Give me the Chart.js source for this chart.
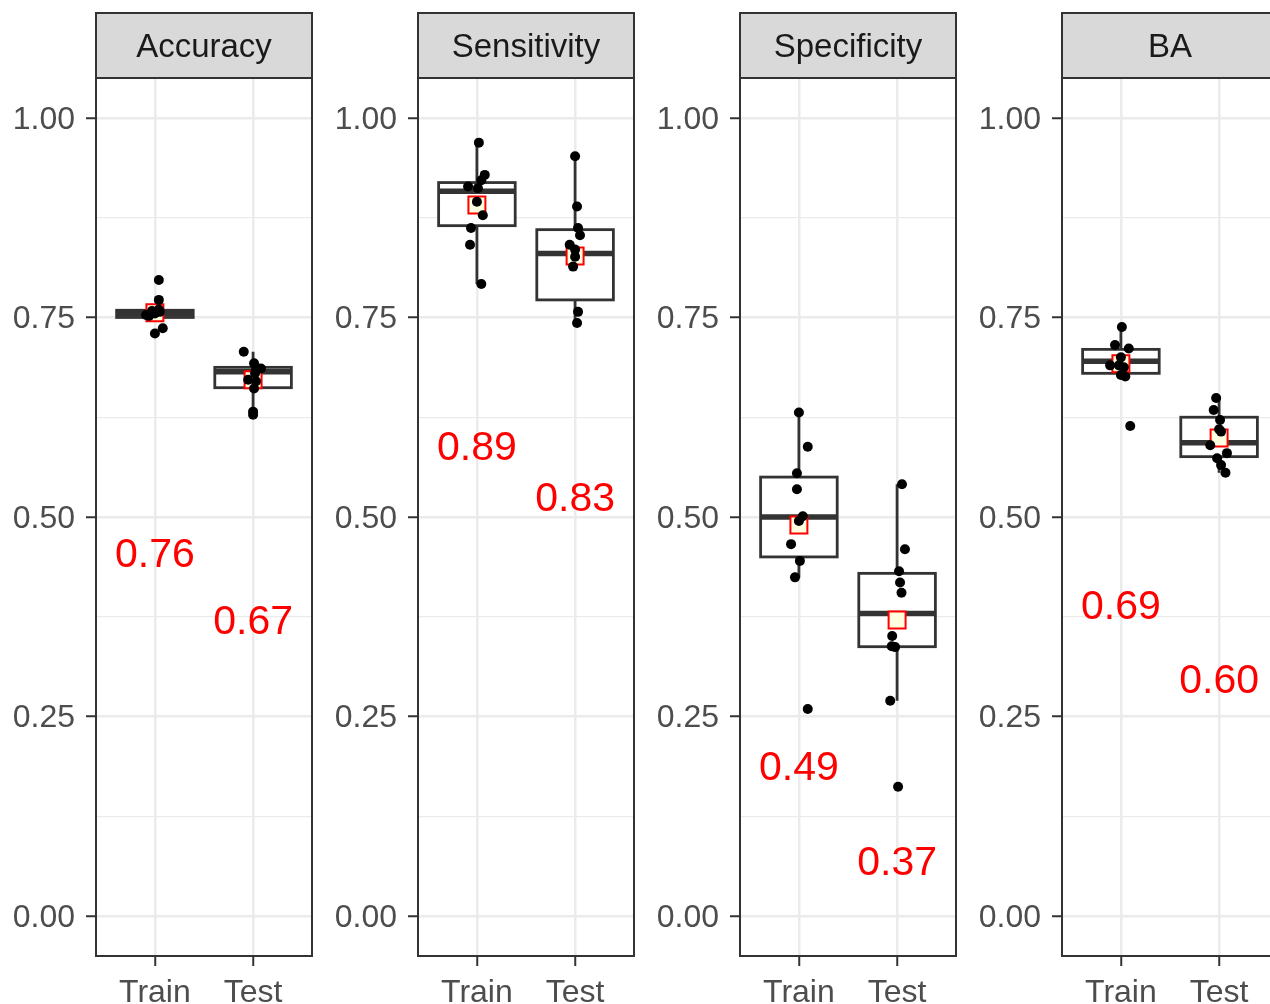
<!DOCTYPE html>
<html>
<head>
<meta charset="utf-8">
<script src="https://cdn.jsdelivr.net/npm/chart.js@4.4.1/dist/chart.umd.min.js"></script>
<style>
  body { margin: 0; background: #fff; overflow: hidden; width: 1270px; height: 1004px; position: relative; }
  canvas { position: absolute; top: 0; }
</style>
</head>
<body>
<script>
// categories / facets
const categories = ['Train', 'Test'];
const metrics = ['Accuracy', 'Sensitivity', 'Specificity', 'BA'];
const yTicks = [0, 0.25, 0.5, 0.75, 1];
const yMinor = [0.125, 0.375, 0.625, 0.875];

// fold values (jitter = horizontal offset)
const accTrain = [0.797, 0.772, 0.760, 0.758, 0.757, 0.755, 0.753, 0.752, 0.7365, 0.730];
const accTrainJit = [0.04, 0.04, 0.04, -0.03, 0.05, 0.00, -0.09, -0.06, 0.08, 0.00];
const accTest = [0.707, 0.6925, 0.686, 0.684, 0.680, 0.672, 0.670, 0.661, 0.632, 0.628];
const accTestJit = [-0.095, 0.01, 0.08, 0.03, 0.02, -0.05, 0.03, 0.01, 0.0, 0.0];

const sensTrain = [0.969, 0.9286, 0.922, 0.914, 0.912, 0.895, 0.878, 0.862, 0.841, 0.792];
const sensTrainJit = [0.02, 0.08, 0.045, -0.09, 0.01, 0.0, 0.06, -0.06, -0.07, 0.045];
const sensTest = [0.952, 0.889, 0.862, 0.853, 0.841, 0.835, 0.826, 0.8137, 0.757, 0.743];
const sensTestJit = [0.0, 0.02, 0.03, 0.05, -0.055, 0.0, 0.0, -0.02, 0.03, 0.02];

const specTrain = [0.631, 0.588, 0.5547, 0.5347, 0.501, 0.495, 0.466, 0.445, 0.4244, 0.2594];
const specTrainJit = [0.0, 0.09, -0.02, -0.02, 0.04, 0.0, -0.08, 0.01, -0.04, 0.09];
const specTest = [0.541, 0.4595, 0.432, 0.418, 0.405, 0.351, 0.338, 0.337, 0.2698, 0.162];
const specTestJit = [0.05, 0.08, 0.02, 0.03, 0.045, -0.05, -0.055, -0.02, -0.07, 0.01];

const baTrain = [0.738, 0.7155, 0.711, 0.700, 0.690, 0.690, 0.6875, 0.678, 0.676, 0.614];
const baTrainJit = [0.01, -0.06, 0.08, 0.0, -0.11, -0.02, 0.03, 0.0, 0.045, 0.095];
const baTest = [0.649, 0.634, 0.6216, 0.610, 0.607, 0.590, 0.580, 0.5735, 0.565, 0.5555];
const baTestJit = [-0.03, -0.055, 0.01, 0.0, 0.02, -0.09, 0.08, -0.02, 0.02, 0.065];

// box stats per metric (Accuracy, Sensitivity, Specificity, BA)
const q1Train = [0.750, 0.865, 0.450, 0.680];
const medTrain = [0.755, 0.908, 0.500, 0.695];
const q3Train = [0.759, 0.919, 0.550, 0.710];
const loTrain = [0.750, 0.792, 0.424, 0.676];
const hiTrain = [0.759, 0.969, 0.631, 0.738];

const q1Test = [0.662, 0.772, 0.3375, 0.5756];
const medTest = [0.682, 0.830, 0.379, 0.593];
const q3Test = [0.6875, 0.860, 0.4294, 0.625];
const loTest = [0.632, 0.743, 0.2698, 0.5555];
const hiTest = [0.707, 0.952, 0.541, 0.649];

const meanTrain = [0.756, 0.891, 0.490, 0.692];
const meanTest = [0.672, 0.827, 0.371, 0.599];

const trainVals = [accTrain, sensTrain, specTrain, baTrain];
const trainJit = [accTrainJit, sensTrainJit, specTrainJit, baTrainJit];
const testVals = [accTest, sensTest, specTest, baTest];
const testJit = [accTestJit, sensTestJit, specTestJit, baTestJit];

const FONT = "'Liberation Sans', Arial, sans-serif";
Chart.defaults.font.family = FONT;

const boxPlugin = {
  id: 'boxes',
  beforeDatasetsDraw(chart, args, opts) {
    const { ctx, scales: { x, y } } = chart;
    const m = opts.metric;
    const stats = [
      [q1Train[m], medTrain[m], q3Train[m], loTrain[m], hiTrain[m]],
      [q1Test[m], medTest[m], q3Test[m], loTest[m], hiTest[m]]
    ];
    ctx.save();
    ctx.strokeStyle = '#333333';
    stats.forEach((s, i) => {
      const c = x.getPixelForValue(i + 1);
      const l = x.getPixelForValue(i + 1 - 0.39);
      const r = x.getPixelForValue(i + 1 + 0.39);
      const yq1 = y.getPixelForValue(s[0]), ymed = y.getPixelForValue(s[1]), yq3 = y.getPixelForValue(s[2]);
      ctx.lineWidth = 2.8;
      ctx.beginPath();
      ctx.moveTo(c, y.getPixelForValue(s[4])); ctx.lineTo(c, yq3);
      ctx.moveTo(c, y.getPixelForValue(s[3])); ctx.lineTo(c, yq1);
      ctx.stroke();
      ctx.fillStyle = '#ffffff';
      ctx.fillRect(l, yq3, r - l, yq1 - yq3);
      ctx.strokeRect(l, yq3, r - l, yq1 - yq3);
      ctx.lineWidth = 5.5;
      ctx.beginPath();
      ctx.moveTo(l, ymed); ctx.lineTo(r, ymed);
      ctx.stroke();
    });
    ctx.restore();
  },
  afterDatasetsDraw(chart, args, opts) {
    const { ctx, scales: { x, y } } = chart;
    const m = opts.metric;
    ctx.save();
    ctx.fillStyle = '#ff0000';
    ctx.font = '41px ' + FONT;
    ctx.textAlign = 'center';
    ctx.textBaseline = 'middle';
    [meanTrain[m], meanTest[m]].forEach((v, i) => {
      ctx.fillText(v.toFixed(2), x.getPixelForValue(i + 1), y.getPixelForValue(v - 0.3) + 4);
    });
    ctx.restore();
  },
  afterDraw(chart, args, opts) {
    const { ctx, chartArea: a } = chart;
    ctx.save();
    ctx.strokeStyle = '#333333';
    ctx.lineWidth = 2;
    ctx.strokeRect(a.left, a.top, a.right - a.left, a.bottom - a.top);
    ctx.fillStyle = '#d9d9d9';
    ctx.fillRect(a.left, 13, a.right - a.left, a.top - 13);
    ctx.strokeRect(a.left, 13, a.right - a.left, a.top - 13);
    ctx.fillStyle = '#1a1a1a';
    ctx.font = '33px ' + FONT;
    ctx.textAlign = 'center';
    ctx.textBaseline = 'middle';
    ctx.fillText(metrics[opts.metric], (a.left + a.right) / 2, 48);
    ctx.restore();
  }
};

metrics.forEach((name, m) => {
  const cv = document.createElement('canvas');
  cv.width = 322;
  cv.height = 1004;
  cv.style.left = (m * 322) + 'px';
  document.body.appendChild(cv);

  const pts = (vals, jit, c) => vals.map((v, i) => ({ x: c + jit[i], y: v }));

  new Chart(cv.getContext('2d'), {
    type: 'scatter',
    data: {
      datasets: [
        {
          data: pts(trainVals[m], trainJit[m], 1).concat(pts(testVals[m], testJit[m], 2)),
          backgroundColor: '#000000',
          borderWidth: 0,
          pointRadius: 5
        },
        {
          data: [{ x: 1, y: meanTrain[m] }, { x: 2, y: meanTest[m] }],
          pointStyle: 'rect',
          pointRadius: 12,
          backgroundColor: '#ffffe0',
          borderColor: '#ff0000',
          borderWidth: 2
        }
      ]
    },
    options: {
      responsive: false,
      animation: false,
      layout: { autoPadding: false, padding: { top: 78, right: 10, left: 0, bottom: 0 } },
      plugins: {
        legend: { display: false },
        tooltip: { enabled: false },
        boxes: { metric: m }
      },
      scales: {
        x: {
          type: 'linear',
          min: 0.4,
          max: 2.6,
          afterFit: s => { s.height = 48; s.paddingLeft = 0; s.paddingRight = 0; },
          afterBuildTicks: s => { s.ticks = categories.map((c, i) => ({ value: i + 1 })); },
          border: { display: false },
          grid: { color: '#ebebeb', lineWidth: 2.5, tickColor: '#333333', tickWidth: 2, tickLength: 10 },
          ticks: {
            autoSkip: false,
            maxRotation: 0,
            padding: 8,
            color: '#4d4d4d',
            font: { size: 32 },
            callback: v => categories[v - 1]
          }
        },
        y: {
          min: -0.05,
          max: 1.05,
          afterFit: s => { s.width = 96; s.paddingTop = 0; s.paddingBottom = 0; },
          afterBuildTicks: s => { s.ticks = yTicks.concat(yMinor).sort((a, b) => a - b).map(v => ({ value: v })); },
          border: { display: false },
          grid: {
            color: '#ebebeb',
            lineWidth: c => yTicks.includes(c.tick && c.tick.value) ? 2.5 : 1.2,
            tickColor: c => yTicks.includes(c.tick && c.tick.value) ? '#333333' : 'rgba(0,0,0,0)',
            tickWidth: 2,
            tickLength: 10
          },
          ticks: {
            autoSkip: false,
            padding: 11,
            labelOffset: 2,
            color: '#4d4d4d',
            font: { size: 32 },
            callback: v => yTicks.includes(v) ? v.toFixed(2) : ''
          }
        }
      }
    },
    plugins: [boxPlugin]
  });
});
</script>
</body>
</html>
